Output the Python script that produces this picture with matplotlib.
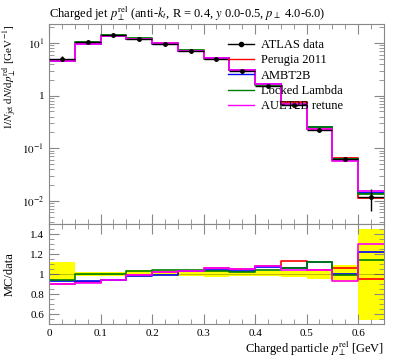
import matplotlib.pyplot as plt
import numpy as np
from matplotlib.lines import Line2D
from matplotlib.ticker import MultipleLocator, LogLocator, NullFormatter, FixedLocator

plt.rcParams['font.family'] = ['Liberation Serif', 'DejaVu Serif']
plt.rcParams['mathtext.fontset'] = 'stix'

edges = np.arange(0, 0.651, 0.05)
centers = 0.5 * (edges[:-1] + edges[1:])

data = [4.95, 10.3, 14.2, 12.1, 9.6, 6.95, 4.9, 2.98, 1.55, 0.667, 0.224, 0.062, 0.0117]
band_lo = [0.94, 0.98, 0.98, 0.97, 0.98, 0.98, 0.97, 0.98, 0.98, 0.97, 0.95, 0.92, 0.54]
band_hi = [1.12, 1.02, 1.02, 1.04, 1.03, 1.03, 1.03, 1.03, 1.03, 1.03, 1.04, 1.09, 1.456]

perugia = [0.90, 0.92, 0.94, 0.99, 1.02, 1.03, 1.06, 1.05, 1.085, 1.135, 1.04, 1.065, 0.946]
ambt2b = [0.93, 0.93, 0.945, 0.98, 0.99, 1.03, 1.04, 1.03, 1.07, 1.06, 1.125, 1.0, 1.22]
locked = [0.94, 1.0, 1.0, 1.03, 1.04, 1.04, 1.03, 1.02, 1.04, 1.06, 1.12, 0.99, 1.14]
auet2b = [0.90, 0.91, 0.945, 0.99, 1.02, 1.03, 1.065, 1.05, 1.08, 1.04, 1.04, 0.93, 1.30]

models = [('Perugia 2011', perugia, 'red'),
          ('AMBT2B', ambt2b, 'blue'),
          ('Locked Lambda', locked, 'green'),
          ('AUET2B retune', auet2b, 'magenta')]

data = np.array(data)
lo = np.array(band_lo)
hi = np.array(band_hi)

fig = plt.figure(figsize=(3.97, 3.58), dpi=100)
ax = fig.add_axes([0.1234, 0.374, 0.8436, 0.559])
rax = fig.add_axes([0.1234, 0.095, 0.8436, 0.279], sharex=ax)


def step(a, vals, **kw):
    y = np.append(vals, vals[-1])
    return a.step(edges, y, where='post', **kw)


handles = [Line2D([], [], color='black', marker='o', ms=3, lw=1.0)]
labels = ['ATLAS data']
for name, r, c in models:
    step(ax, data * np.array(r), color=c, lw=1.3)
    handles.append(Line2D([], [], color=c, lw=1.0))
    labels.append(name)
ax.errorbar(centers, data, yerr=[data - data * lo, data * hi - data], fmt='o', color='black',
            ms=2.5, lw=1.0, capsize=0, zorder=5)
ax.hlines(data, edges[:-1], edges[1:], color='black', lw=1.0, zorder=4)

ax.set_yscale('log')
ax.set_xlim(0, 0.65)
ax.set_ylim(0.0036, 23)
ax.yaxis.set_major_locator(FixedLocator([0.01, 0.1, 1, 10]))
ax.set_yticklabels([r'$10^{-2}$', r'$10^{-1}$', '1', r'$10^{1}$'])
ax.yaxis.set_minor_locator(LogLocator(base=10, subs=np.arange(2, 10)))
ax.yaxis.set_minor_formatter(NullFormatter())
ax.set_ylabel(r'$1/N_{\rm jet}\;{\rm d}N/{\rm d}p_\perp^{\rm rel}$ [GeV$^{-1}$]', fontsize=8,
              loc='top')
ax.yaxis.set_label_coords(-0.09, 1.0)
ax.set_title(r'Charged jet $p_\perp^{\rm rel}$ (anti-$k_t$, R = 0.4, $y$ 0.0-0.5, $p_\perp$ 4.0-6.0)',
             fontsize=9, loc='left', pad=5)
plt.setp(ax.get_xticklabels(), visible=False)

ax.legend(handles, labels, loc='upper left', frameon=False, fontsize=9, handlelength=2.1,
          handletextpad=0.55, labelspacing=0.27, borderpad=0, borderaxespad=0,
          bbox_to_anchor=(0.534, 0.925))

rax.fill_between(edges, np.append(lo, lo[-1]), np.append(hi, hi[-1]), step='post',
                 color='yellow', lw=0)
rax.axhline(1.0, color='black', lw=0.6, alpha=0.3)
for name, r, c in models:
    step(rax, r, color=c, lw=1.2)
rax.set_ylim(0.5, 1.5)
rax.yaxis.set_minor_locator(MultipleLocator(0.05))
rax.set_yticks([0.6, 0.8, 1.0, 1.2, 1.4])
rax.set_yticklabels(['0.6', '0.8', '1', '1.2', '1.4'])
rax.xaxis.set_minor_locator(MultipleLocator(0.025))
rax.set_xticks([0, 0.1, 0.2, 0.3, 0.4, 0.5, 0.6])
rax.set_xticklabels(['0', '0.1', '0.2', '0.3', '0.4', '0.5', '0.6'])
rax.set_ylabel('MC/data', fontsize=9)
rax.yaxis.set_label_coords(-0.10, 0.5)
rax.set_xlabel(r'Charged particle $p_\perp^{\rm rel}$ [GeV]', fontsize=9, loc='right', labelpad=1)

for a in (ax, rax):
    a.tick_params(which='both', direction='in', top=True, right=True, color='#888888',
                  labelsize=8)
    a.tick_params(which='major', length=7)
    a.tick_params(which='minor', length=3.5)
    for s in a.spines.values():
        s.set_color('#888888')
        s.set_linewidth(0.8)

fig.savefig('out.png', dpi=100)
